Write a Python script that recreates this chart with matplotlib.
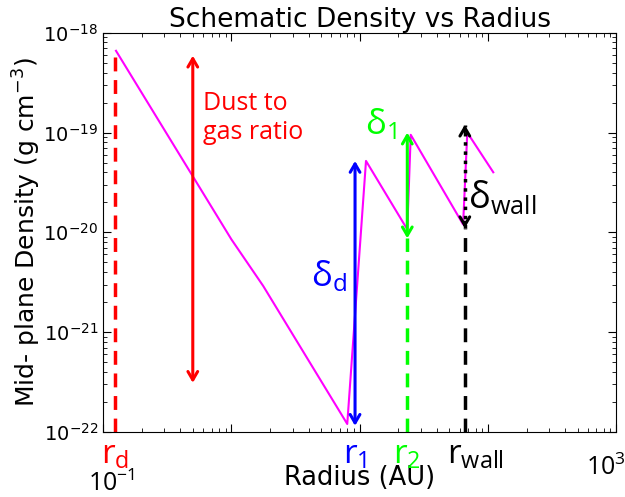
import numpy as np
import matplotlib
matplotlib.use('Agg')
import matplotlib.pyplot as plt

# Perfil de densidad (AU, g cm^-3)
radio = [0.126, 1.0, 1.77, 8.0, 11.2, 23.5, 25.0, 64.0, 69.0, 110.0]
densidad = [6.6e-19, 8.5e-21, 2.9e-21, 1.2e-22, 5.2e-20, 1.07e-20, 9.5e-20, 1.2e-20, 1.0e-19, 4.0e-20]

# Radios caracteristicos
r_d, r_polvo, r_1, r_2, r_wall = 0.124, 0.50, 9.2, 23.5, 66.0
# Extremos de las flechas
polvo_rango = [3.1e-22, 5.9e-19]
delta_d = [1.15e-22, 5.2e-20]
delta_1 = [8.7e-21, 1.0e-19]
delta_wall = [1.1e-20, 1.2e-19]
rd_tope = 6.3e-19

fnt = ['Open Sans', 'DejaVu Sans']

fig = plt.figure(figsize=(6.25, 4.97), dpi=100)
ax = fig.add_axes([0.165, 0.131, 0.821, 0.803])
ax.set_xscale('log')
ax.set_yscale('log')
ax.set_xlim(0.1, 1000)
ax.set_ylim(1e-22, 1e-18)

ax.plot(radio, densidad, color='magenta', lw=1.5, zorder=3)

# lineas discontinuas
ax.plot([r_d, r_d], [1e-22, rd_tope], color='red', lw=2.5, ls=(0, (4, 2.5)))
ax.plot([r_2, r_2], [1e-22, delta_1[0]], color='lime', lw=2.5, ls=(0, (4, 2.5)))
ax.plot([r_wall, r_wall], [1e-22, delta_wall[0]], color='black', lw=2.5, ls=(0, (4, 2.5)))

flecha = dict(arrowstyle='<->,head_width=0.35,head_length=0.6', lw=2.2, shrinkA=0, shrinkB=0)
ax.annotate('', xy=(r_polvo, polvo_rango[1]), xytext=(r_polvo, polvo_rango[0]),
            arrowprops=dict(flecha, color='red'))
ax.annotate('', xy=(r_1, delta_d[1]), xytext=(r_1, delta_d[0]),
            arrowprops=dict(flecha, color='blue'))
ax.annotate('', xy=(r_2, delta_1[1]), xytext=(r_2, delta_1[0]),
            arrowprops=dict(flecha, color='lime'), zorder=4)
# flecha punteada
ax.plot([r_wall, r_wall], delta_wall, color='black', lw=2.5, ls=':', zorder=4)
cabeza = dict(arrowstyle='->,head_width=0.35,head_length=0.6', lw=2.2, color='black',
              shrinkA=0, shrinkB=0)
ax.annotate('', xy=(r_wall, delta_wall[1]), xytext=(r_wall, delta_wall[1] * 0.85), arrowprops=cabeza)
ax.annotate('', xy=(r_wall, delta_wall[0]), xytext=(r_wall, delta_wall[0] * 1.15), arrowprops=cabeza)

# textos
ax.text(0.6, 2.6e-19, 'Dust to\ngas ratio', color='red', fontsize=18, family=fnt,
        va='top', ha='left', linespacing=1.2)
ax.text(14.5, 1.2e-19, r'$\mathregular{\delta_1}$', color='lime', fontsize=25, family=fnt,
        ha='center', va='center')
ax.text(5.8, 3.6e-21, r'$\mathregular{\delta_d}$', color='blue', fontsize=25, family=fnt,
        ha='center', va='center')
ax.text(70, 2.2e-20, r'$\mathregular{\delta_{wall}}$', color='black', fontsize=26, family=fnt,
        ha='left', va='center')

for r, lab, c, ha in [(r_d, 'r_d', 'red', 'center'), (r_1, 'r_1', 'blue', 'center'),
                      (r_2, 'r_2', 'lime', 'center'), (48, 'r_{wall}', 'black', 'left')]:
    ax.text(r, 8.6e-23, r'$\mathregular{%s}$' % lab, color=c, fontsize=24, family=fnt,
            ha=ha, va='top')

fig.text(0.140, 0.012, r'$\mathregular{10^{-1}}$', fontsize=18, family=fnt)
fig.text(0.937, 0.045, r'$\mathregular{10^{3}}$', fontsize=18, family=fnt)

ax.set_title('Schematic Density vs Radius', fontsize=19, pad=4)
ax.set_xlabel('Radius (AU)', fontsize=18.5, labelpad=20)
ax.set_ylabel(r'Mid- plane Density (g cm$^{-3}$)', fontsize=18, labelpad=0)
ax.tick_params(which='both', direction='in', top=True, right=True)
ax.tick_params(which='major', length=6)
ax.tick_params(which='minor', length=3)
ax.tick_params(axis='y', labelsize=14)
ax.xaxis.set_major_formatter(plt.NullFormatter())
ax.xaxis.set_minor_formatter(plt.NullFormatter())

fig.savefig('out.png', dpi=100)
